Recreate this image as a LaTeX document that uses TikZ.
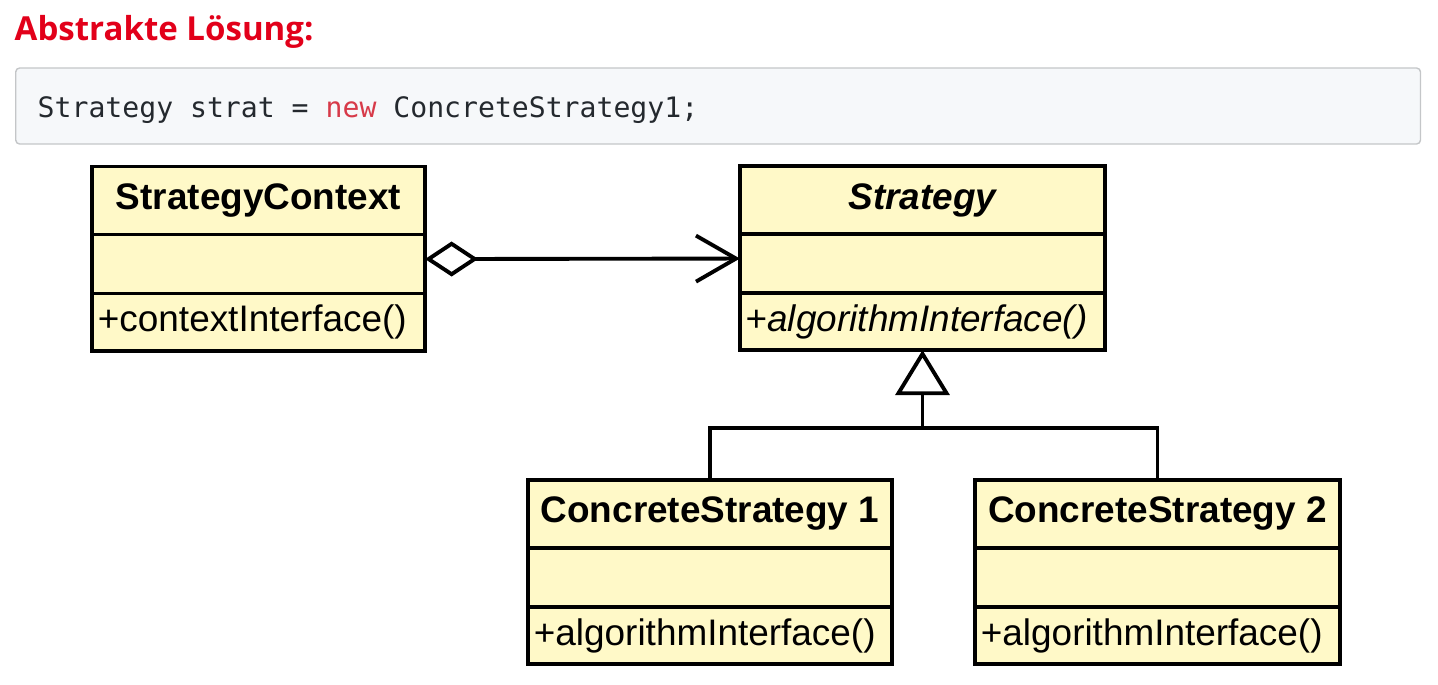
\documentclass[tikz,border=0pt]{standalone}
\usepackage{fontspec}
\setmainfont{Liberation Sans}
\newfontfamily\headfont{Open Sans}
\setmonofont{DejaVu Sans Mono}
\usetikzlibrary{positioning,arrows.meta}

\definecolor{umlfill}{HTML}{FFF9C8}
\definecolor{headred}{HTML}{E2001A}
\definecolor{codebg}{HTML}{F6F8FA}
\definecolor{codeframe}{HTML}{C4C6C8}
\definecolor{codetext}{HTML}{24292E}
\definecolor{keyword}{HTML}{D73A49}

\tikzset{
  cls/.style={draw, line width=1.1pt, fill=umlfill, outer sep=0pt, inner sep=0pt,
    font=\fontsize{10.5}{12}\selectfont},
  clshead/.style={cls, minimum height=0.68cm, font=\fontsize{10.5}{12}\selectfont\bfseries},
  clsattr/.style={cls, minimum height=0.59cm},
  clsop/.style={cls, minimum height=0.57cm, align=left, inner xsep=0.06cm},
  assoc/.style={line width=1.1pt,
    {Diamond[open,length=0.53cm,width=0.35cm]}-{Straight Barb[length=0.4cm,width=0.46cm]}},
  genline/.style={line width=1.1pt},
}

\begin{document}
\begin{tikzpicture}[x=0.01cm, y=-0.01cm]
\useasboundingbox (0,0) rectangle (1438,684);

% heading and code sample
\node[anchor=base west, inner sep=0pt, text=headred,
  font=\headfont\bfseries\fontsize{9.4}{11}\selectfont] (heading) at (14,40) {Abstrakte Lösung:};
\node[draw=codeframe, fill=codebg, rounded corners=0.04cm, line width=0.4pt,
  minimum width=14.04cm, minimum height=0.76cm, anchor=west] (codebox) at (15,106) {};
\node[anchor=base west, inner sep=0pt, text=codetext, font=\ttfamily\fontsize{8}{10}\selectfont]
  (codeline) at (37,117) {Strategy strat = \textcolor{keyword}{new} ConcreteStrategy1;};

% context class
\node[clshead, minimum width=3.33cm] (ctx) at (258.5,200.5) {StrategyContext};
\node[clsattr, minimum width=3.33cm, below=0pt of ctx] (ctx-attr) {};
\node[clsop, text width=3.21cm, below=0pt of ctx-attr] (ctx-op) {+contextInterface()};

% abstract strategy
\node[clshead, minimum width=3.65cm, font=\fontsize{10.5}{12}\selectfont\bfseries\itshape]
  (strat) at (922.5,200) {Strategy};
\node[clsattr, minimum width=3.65cm, below=0pt of strat] (strat-attr) {};
\node[clsop, text width=3.53cm, below=0pt of strat-attr, font=\fontsize{10.5}{12}\selectfont\itshape]
  (strat-op) {+algorithmInterface()};

% concrete strategies
\node[clshead, minimum width=3.64cm] (cs1) at (710,514) {ConcreteStrategy 1};
\node[clsattr, minimum width=3.64cm, below=0pt of cs1] (cs1-attr) {};
\node[clsop, text width=3.52cm, below=0pt of cs1-attr] (cs1-op) {+algorithmInterface()};

\node[clshead, minimum width=3.65cm] (cs2) at (1157.5,514) {ConcreteStrategy 2};
\node[clsattr, minimum width=3.65cm, below=0pt of cs2] (cs2-attr) {};
\node[clsop, text width=3.53cm, below=0pt of cs2-attr] (cs2-op) {+algorithmInterface()};

% relations
\draw[assoc] ([yshift=0.05cm]ctx-attr.east) -- ([yshift=0.05cm]strat-attr.west);
\coordinate (fork) at ([yshift=-0.78cm]strat-op.south);
\draw[genline] (cs1.north) |- (fork) -| (cs2.north);
\draw[genline, -{Triangle[open,length=0.45cm,width=0.54cm]}] (fork) -- (strat-op.south);
\end{tikzpicture}
\end{document}
